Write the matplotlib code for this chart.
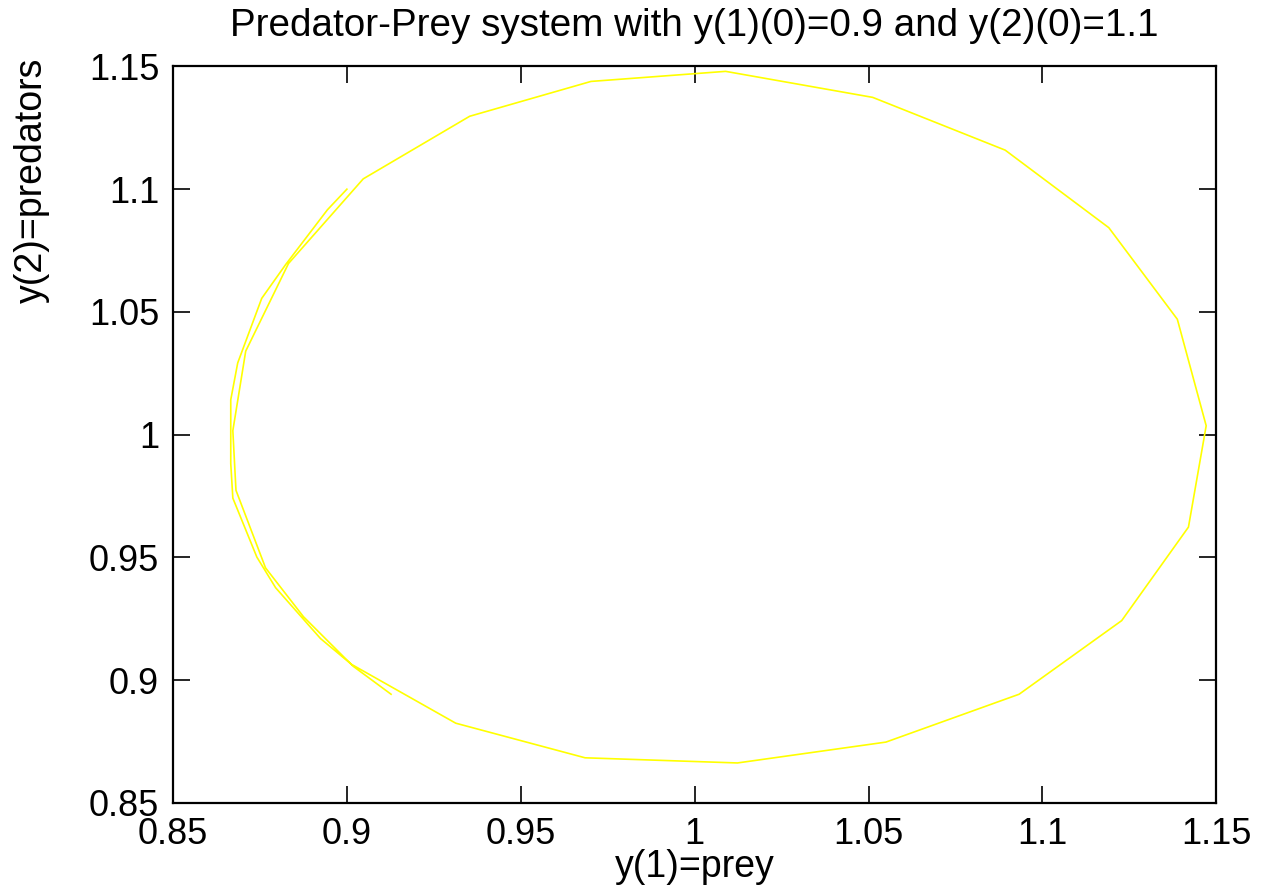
import numpy as np
import matplotlib
matplotlib.use("Agg")
import matplotlib.pyplot as plt

plt.rcParams['font.family'] = ['Liberation Sans', 'DejaVu Sans']

# first loop (prey, predators)
prey_1 = [0.9000, 0.8944, 0.8824, 0.8755, 0.8686, 0.8666, 0.8666, 0.8672,
          0.8741, 0.8795, 0.8924, 0.9013, 0.9313, 0.9685, 1.0123, 1.0550,
          1.0933, 1.1228, 1.1420, 1.1471, 1.1388, 1.1191, 1.0893, 1.0512,
          1.0089, 0.9702, 0.9353, 0.9047]
pred_1 = [1.1000, 1.0916, 1.0693, 1.0555, 1.0292, 1.0142, 0.9882, 0.9741,
          0.9501, 0.9376, 0.9169, 0.9064, 0.8824, 0.8683, 0.8662, 0.8747,
          0.8942, 0.9242, 0.9623, 1.0036, 1.0470, 1.0843, 1.1159, 1.1374,
          1.1480, 1.1439, 1.1297, 1.1042]
# second pass down the left side
prey_2 = [0.8832, 0.8709, 0.8672, 0.8681, 0.8766, 0.8875, 0.9018, 0.9127]
pred_2 = [1.0697, 1.0340, 1.0016, 0.9773, 0.9457, 0.9258, 0.9056, 0.8942]

ticks = [0.85, 0.9, 0.95, 1.0, 1.05, 1.1, 1.15]
tick_labels = ['0.85', '0.9', '0.95', '1', '1.05', '1.1', '1.15']

prey = prey_1 + prey_2
pred = pred_1 + pred_2

fig = plt.figure(figsize=(12.63, 8.86), dpi=100)
ax = fig.add_axes([0.137, 0.094, 0.826, 0.831])
ax.plot(prey, pred, color='#ffff00', lw=1.2)

ax.set_xlim(0.85, 1.15)
ax.set_ylim(0.85, 1.15)
ax.set_xticks(ticks)
ax.set_xticklabels(tick_labels)
ax.set_yticks(ticks)
ax.set_yticklabels(tick_labels)
ax.tick_params(direction='in', length=12, width=1.2, top=True, right=True,
               labelsize=26, pad=10)
for s in ax.spines.values():
    s.set_linewidth(1.6)

ax.set_title('Predator-Prey system with y(1)(0)=0.9 and y(2)(0)=1.1',
             fontsize=27.8, pad=22)
ax.set_xlabel('y(1)=prey', fontsize=27, labelpad=-2)
ax.set_ylabel('y(2)=predators', fontsize=27)
ax.yaxis.set_label_coords(-0.118, 0.845)

fig.savefig('out.png', dpi=100)
